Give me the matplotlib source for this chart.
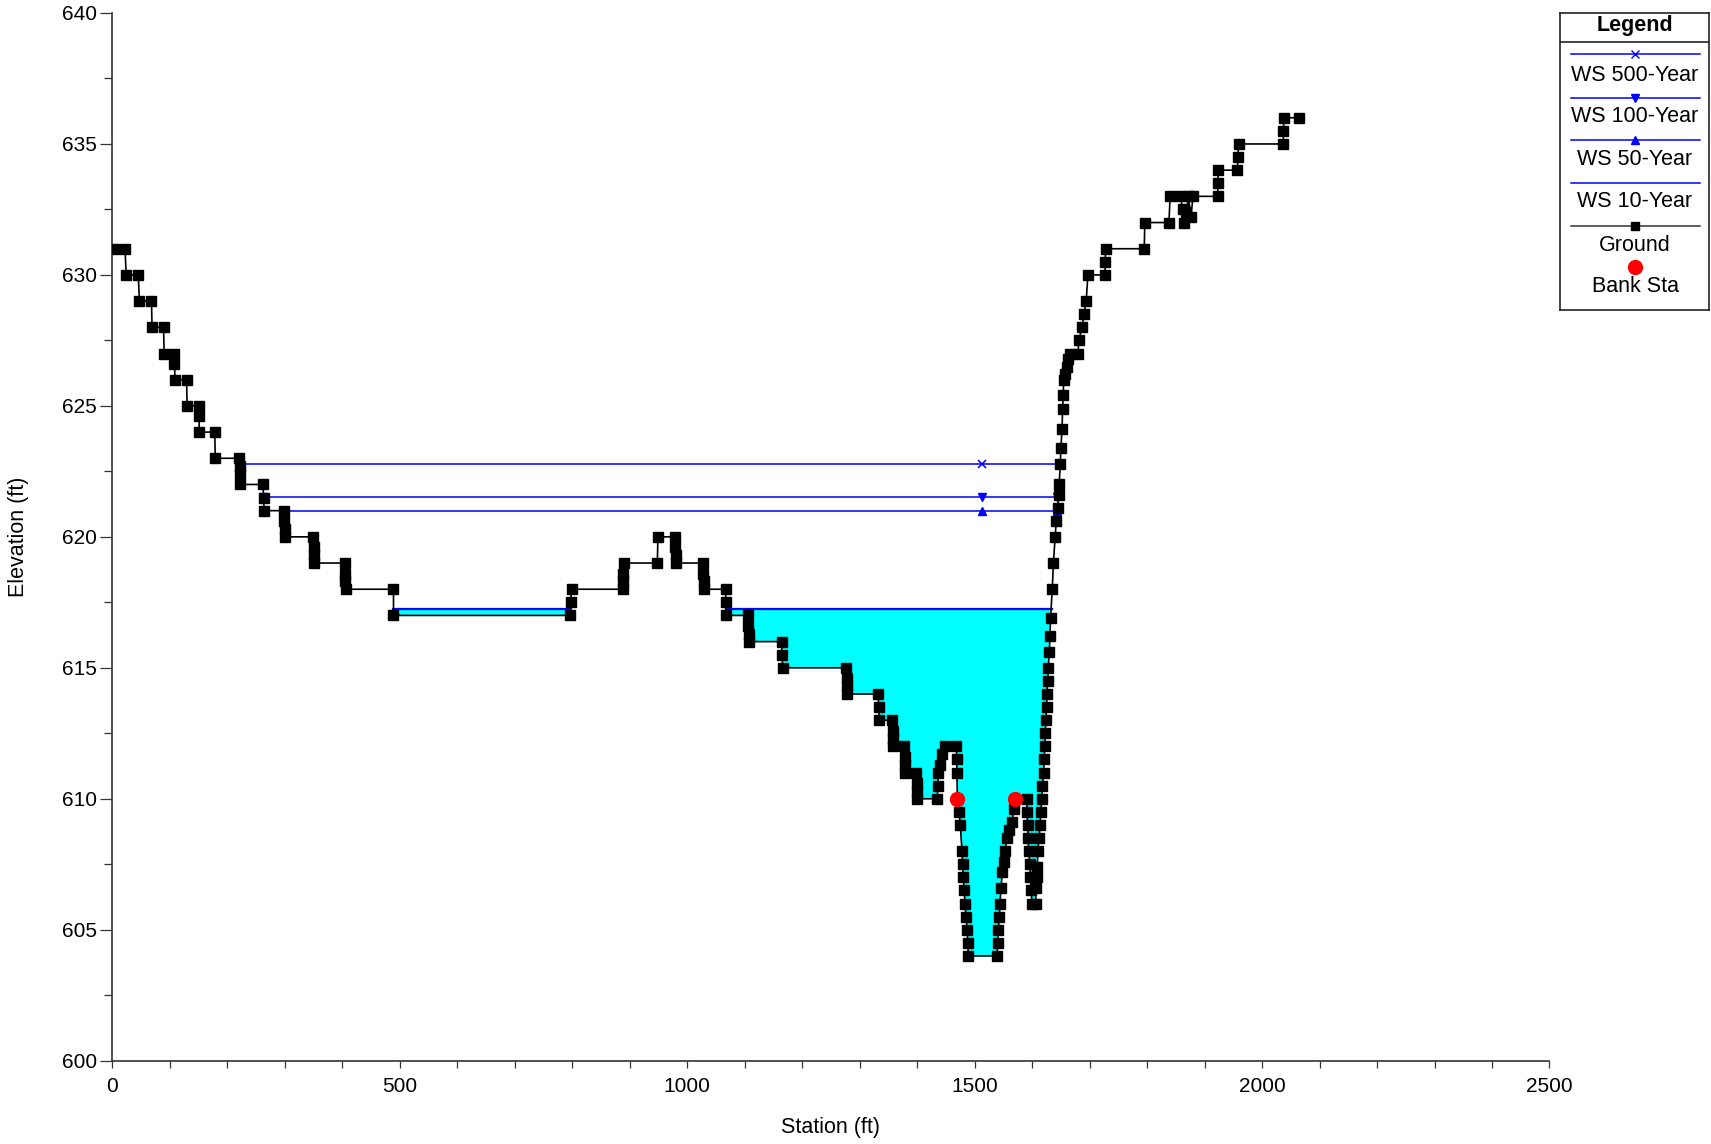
import matplotlib.pyplot as plt
import numpy as np
from matplotlib.ticker import MultipleLocator

plt.rcParams['font.family'] = ['Liberation Sans', 'DejaVu Sans']

# ground profile (station ft, elevation ft)
ground_sta = [2, 22, 24, 45, 47, 68, 69, 89, 90, 107, 108, 109, 129, 130, 151, 151, 151, 178, 179,
              221, 222, 222, 222, 262, 263, 264, 299, 299, 300, 300, 349, 350, 350, 350, 404, 405, 405,
              406, 489, 489, 796, 797, 799, 889, 889, 889, 890, 948, 949, 979, 979, 980, 980, 1028,
              1028, 1029, 1029, 1067, 1067, 1067, 1106, 1106, 1107, 1107, 1164, 1165, 1166, 1277, 1278,
              1278, 1278, 1332, 1333, 1334, 1357, 1358, 1358, 1358, 1377, 1378, 1378, 1379, 1398, 1399,
              1399, 1400, 1435, 1436, 1437, 1440, 1443, 1448, 1468, 1469, 1469, 1470, 1473, 1475, 1478,
              1479, 1480, 1482, 1483, 1485, 1487, 1488, 1489, 1539, 1540, 1541, 1543, 1544, 1546, 1548,
              1551, 1553, 1556, 1560, 1565, 1568, 1571, 1591, 1591, 1592, 1593, 1594, 1596, 1597, 1598,
              1600, 1606, 1607, 1608, 1609, 1610, 1612, 1614, 1615, 1617, 1618, 1620, 1621, 1622, 1623,
              1624, 1625, 1626, 1627, 1628, 1630, 1631, 1632, 1635, 1637, 1640, 1642, 1645, 1646, 1647,
              1649, 1650, 1652, 1653, 1654, 1655, 1657, 1660, 1663, 1665, 1680, 1681, 1687, 1690, 1694,
              1697, 1727, 1727, 1728, 1795, 1796, 1838, 1840, 1858, 1862, 1865, 1868, 1872, 1876, 1880,
              1923, 1923, 1924, 1957, 1958, 1959, 2037, 2037, 2038, 2064]
ground_el = [631, 631, 630, 630, 629, 629, 628, 628, 627, 627, 626.6, 626, 626, 625, 625, 624.6, 624,
             624, 623, 623, 622.7, 622.4, 622, 622, 621.5, 621, 621, 620.6, 620.3, 620, 620, 619.6,
             619.3, 619, 619, 618.6, 618.3, 618, 618, 617, 617, 617.5, 618, 618, 618.3, 618.6, 619, 619,
             620, 620, 619.6, 619.3, 619, 619, 618.6, 618.3, 618, 618, 617.5, 617, 617, 616.6, 616.3,
             616, 616, 615.5, 615, 615, 614.6, 614.3, 614, 614, 613.5, 613, 613, 612.6, 612.3, 612, 612,
             611.6, 611.3, 611, 611, 610.6, 610.3, 610, 610, 610.5, 611, 611.3, 611.7, 612, 612, 611.5,
             611, 610, 609.5, 609, 608, 607.5, 607, 606.5, 606, 605.5, 605, 604.5, 604, 604, 604.5, 605,
             605.5, 606, 606.6, 607.2, 607.6, 608, 608.5, 608.8, 609.1, 609.6, 610, 610, 609.5, 609,
             608.5, 608, 607.5, 607, 606.5, 606, 606, 606.6, 607, 607.4, 608, 608.5, 609, 609.5, 610,
             610.5, 611, 611.5, 612, 612.5, 613, 613.5, 614, 614.5, 615, 615.6, 616.2, 616.9, 618, 619,
             620, 620.6, 621.1, 621.6, 622, 622.8, 623.4, 624.1, 624.9, 625.4, 626, 626.2, 626.5, 626.8,
             627, 627, 627.5, 628, 628.5, 629, 630, 630, 630.5, 631, 631, 632, 632, 633, 633, 632.5,
             632, 632.4, 633, 632.2, 633, 633, 633.5, 634, 634, 634.5, 635, 635, 635.5, 636, 636]

bank_sta = [1470, 1571]
bank_el = [610, 610]

ws500_sta = [222, 1513, 1647]
ws500_el = 622.79
ws100_sta = [262, 1513, 1644]
ws100_el = 621.54
ws50_sta = [299, 1513, 1643]
ws50_el = 621.0
ws10_sta = [489, 797, np.nan, 1067, 1634]
ws10_el = 617.23

W, H = 1711, 1144
fig = plt.figure(figsize=(W / 100, H / 100), dpi=100)
ax = fig.add_axes([112.4 / W, 1 - 1060.7 / H, 1437.1 / W, 1047.7 / H])

g_sta = np.array(ground_sta, dtype=float)
g_el = np.array(ground_el, dtype=float)
ax.fill_between(g_sta, g_el, ws10_el, where=g_el <= ws10_el, interpolate=True,
                color='#00ffff', lw=0, zorder=1)

blue = '#0000ff'
ax.plot(ws500_sta, [ws500_el] * 3, color=blue, lw=1.1, marker='x', ms=6, mew=1.1, zorder=3)
ax.plot(ws100_sta, [ws100_el] * 3, color=blue, lw=1.1, marker='v', ms=6, zorder=3)
ax.plot(ws50_sta, [ws50_el] * 3, color=blue, lw=1.1, marker='^', ms=6, zorder=3)
ax.plot(ws10_sta, [ws10_el] * 5, color=blue, lw=1.6, zorder=3)
ax.plot(g_sta, g_el, color='k', lw=1.2, marker='s', ms=7.3, mfc='k', mec='k', zorder=4)
ax.plot(bank_sta, bank_el, ls='none', marker='o', ms=10, color='#ff0000', zorder=5)

ax.set_xlim(0, 2500)
ax.set_ylim(600, 640)
ax.xaxis.set_major_locator(MultipleLocator(500))
ax.xaxis.set_minor_locator(MultipleLocator(100))
ax.yaxis.set_major_locator(MultipleLocator(5))
ax.yaxis.set_minor_locator(MultipleLocator(2.5))
for s in ['top', 'right']:
    ax.spines[s].set_visible(False)
for s in ['left', 'bottom']:
    ax.spines[s].set_color('#333333')
    ax.spines[s].set_linewidth(1.2)
ax.tick_params(axis='x', which='both', length=5, width=0.9, color='#333333', labelsize=15, pad=7)
ax.tick_params(axis='y', which='major', length=9, width=0.9, color='#333333', labelsize=15, pad=2)
ax.tick_params(axis='y', which='minor', length=6, width=0.9, color='#333333')
ax.set_xlabel('Station (ft)', fontsize=15.5)
ax.set_ylabel('Elevation (ft)', fontsize=15.5)
ax.xaxis.set_label_coords(0.5, -0.054)
ax.yaxis.set_label_coords(-0.058, 0.5)

# legend box drawn in pixel coords of the figure
lg = fig.add_axes([1560 / W, 1 - 310 / H, 149 / W, 297 / H])
lg.set_xlim(1560, 1709)
lg.set_ylim(310, 13)
lg.set_xticks([])
lg.set_yticks([])
for s in lg.spines.values():
    s.set_linewidth(1.2)
    s.set_color('#222222')
lg.axhline(41.7, color='#222222', lw=1.2)
lg.text(1635, 25, 'Legend', ha='center', va='center', fontsize=15.5, fontweight='bold')
entries = [('WS 500-Year', blue, 'x', 54.3, 75),
           ('WS 100-Year', blue, 'v', 97.7, 116.7),
           ('WS 50-Year', blue, '^', 140, 159.3),
           ('WS 10-Year', blue, None, 182.7, 201.7),
           ('Ground', '#333333', 's', 226, 245)]
for name, c, m, ly, ty in entries:
    lg.plot([1571, 1700], [ly, ly], color=c, lw=1.1)
    if m is not None:
        lg.plot([1635], [ly], marker=m, color=c if m != 's' else 'k', ms=5.5, mew=1.0)
    lg.text(1635, ty, name, ha='center', va='center', fontsize=15.5)
lg.plot([1635], [266.7], marker='o', ms=10, color='#ff0000', ls='none')
lg.text(1635, 286, 'Bank Sta', ha='center', va='center', fontsize=15.5)

fig.savefig('out.png', dpi=100)
